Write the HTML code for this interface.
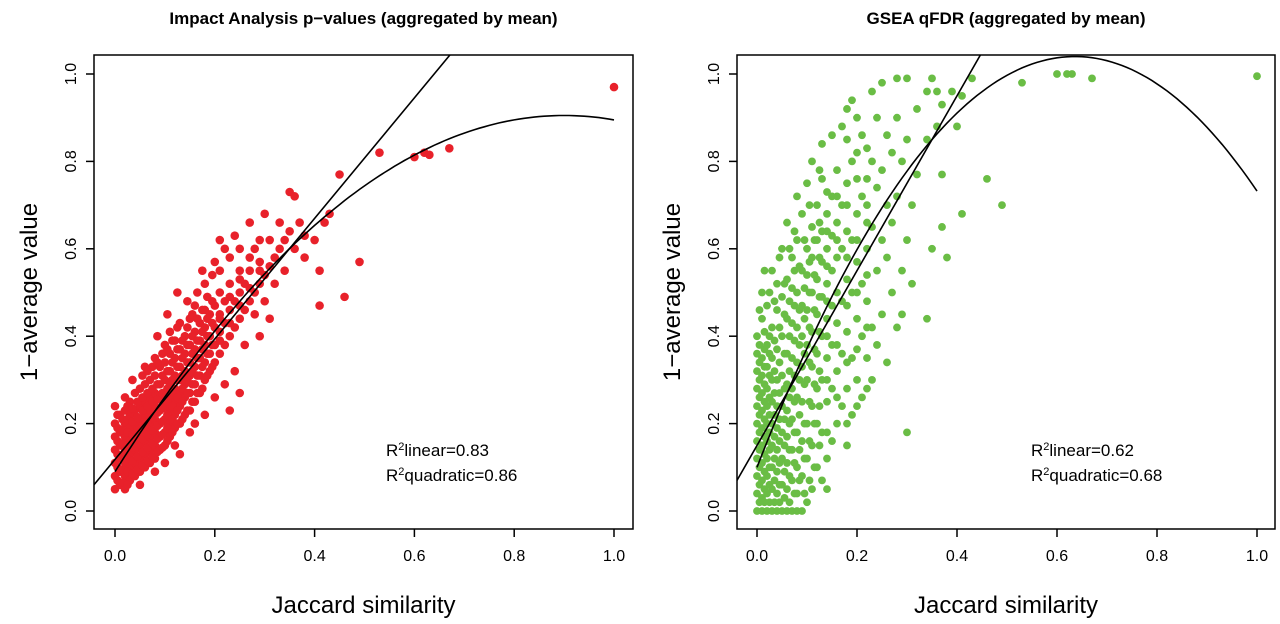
<!DOCTYPE html>
<html><head><meta charset="utf-8"><style>
html,body{margin:0;padding:0;background:#fff;}
svg{display:block;font-family:"Liberation Sans",Arial,sans-serif;}
</style></head><body>
<svg id="c" width="1280" height="624" viewBox="0 0 1280 624"></svg>
<script>
const xTicks=[0,0.2,0.4,0.6,0.8,1.0];
const yTicks=[0,0.2,0.4,0.6,0.8,1.0];
const tickLabels=["0.0","0.2","0.4","0.6","0.8","1.0"];
const leftTitle="Impact Analysis p\u2212values (aggregated by mean)";
const rightTitle="GSEA qFDR (aggregated by mean)";
const leftLinear=[0.118,1.379];
const leftQuad=[0.09,1.811,-1.006];
const rightLinear=[0.15,2.0];
const rightQuad=[0.1,2.956,-2.324];
const leftR2=["0.83","0.86"];
const rightR2=["0.62","0.68"];
const leftPoints=[[0,0.05],[0,0.08],[0,0.11],[0,0.14],[0,0.17],[0,0.2],[0,0.24],
[0.01,0.06],[0.01,0.09],[0.01,0.12],[0.01,0.15],[0.01,0.18],[0.01,0.22],
[0.02,0.05],[0.02,0.08],[0.02,0.11],[0.02,0.14],[0.02,0.17],[0.02,0.2],[0.02,0.23],[0.02,0.26],
[0.03,0.07],[0.03,0.1],[0.03,0.13],[0.03,0.16],[0.03,0.19],[0.03,0.22],[0.03,0.25],
[0.04,0.08],[0.04,0.11],[0.04,0.14],[0.04,0.17],[0.04,0.2],[0.04,0.23],[0.04,0.27],
[0.05,0.09],[0.05,0.12],[0.05,0.15],[0.05,0.18],[0.05,0.21],[0.05,0.24],[0.05,0.28],
[0.06,0.1],[0.06,0.13],[0.06,0.16],[0.06,0.19],[0.06,0.22],[0.06,0.25],[0.06,0.29],[0.06,0.33],
[0.07,0.11],[0.07,0.14],[0.07,0.17],[0.07,0.2],[0.07,0.23],[0.07,0.26],[0.07,0.3],
[0.08,0.12],[0.08,0.15],[0.08,0.18],[0.08,0.21],[0.08,0.24],[0.08,0.27],[0.08,0.31],[0.08,0.35],
[0.09,0.14],[0.09,0.17],[0.09,0.2],[0.09,0.23],[0.09,0.26],[0.09,0.29],[0.09,0.33],
[0.1,0.15],[0.1,0.18],[0.1,0.21],[0.1,0.24],[0.1,0.27],[0.1,0.3],[0.1,0.34],[0.1,0.38],
[0.11,0.17],[0.11,0.2],[0.11,0.23],[0.11,0.26],[0.11,0.29],[0.11,0.32],[0.11,0.36],[0.11,0.41],
[0.12,0.19],[0.12,0.22],[0.12,0.25],[0.12,0.28],[0.12,0.31],[0.12,0.35],[0.12,0.39],
[0.13,0.2],[0.13,0.24],[0.13,0.27],[0.13,0.3],[0.13,0.33],[0.13,0.37],[0.13,0.43],
[0.14,0.22],[0.14,0.26],[0.14,0.29],[0.14,0.32],[0.14,0.36],[0.14,0.4],
[0.15,0.23],[0.15,0.27],[0.15,0.31],[0.15,0.34],[0.15,0.38],[0.15,0.44],
[0.16,0.25],[0.16,0.29],[0.16,0.33],[0.16,0.37],[0.16,0.41],[0.16,0.47],
[0.17,0.27],[0.17,0.31],[0.17,0.35],[0.17,0.39],[0.17,0.43],
[0.18,0.3],[0.18,0.34],[0.18,0.38],[0.18,0.42],[0.18,0.46],[0.18,0.52],
[0.19,0.32],[0.19,0.36],[0.19,0.4],[0.19,0.45],
[0.2,0.34],[0.2,0.38],[0.2,0.42],[0.2,0.47],[0.2,0.57],
[0.21,0.36],[0.21,0.41],[0.21,0.45],[0.21,0.5],
[0.22,0.38],[0.22,0.43],[0.22,0.48],[0.22,0.6],[0.22,0.29],
[0.23,0.4],[0.23,0.46],[0.23,0.52],[0.23,0.23],
[0.24,0.42],[0.24,0.48],[0.24,0.63],[0.24,0.32],
[0.25,0.44],[0.25,0.5],[0.25,0.55],[0.25,0.27],
[0.26,0.46],[0.26,0.52],[0.26,0.38],[0.27,0.48],[0.27,0.55],[0.27,0.66],
[0.28,0.5],[0.28,0.45],[0.28,0.6],[0.29,0.52],[0.29,0.57],[0.29,0.4],
[0.3,0.54],[0.3,0.48],[0.3,0.68],[0.31,0.56],[0.31,0.62],[0.31,0.44],
[0.32,0.58],[0.32,0.52],[0.33,0.6],[0.33,0.66],[0.34,0.62],[0.34,0.55],
[0.35,0.64],[0.35,0.73],[0.36,0.72],[0.36,0.6],[0.37,0.66],[0.38,0.58],[0.38,0.63],
[0.4,0.62],[0.41,0.55],[0.41,0.47],[0.42,0.66],[0.43,0.68],[0.45,0.77],[0.46,0.49],
[0.49,0.57],[0.53,0.82],[0.6,0.81],[0.62,0.82],[0.63,0.815],[0.67,0.83],[1.0,0.97],
[0.12,0.15],[0.15,0.18],[0.18,0.22],[0.2,0.26],[0.13,0.13],[0.16,0.2],[0.1,0.11],[0.08,0.09],[0.05,0.06]];
const leftExtraCols=[
[0.005,[0.07,0.1,0.13,0.16,0.19,0.22]],
[0.015,[0.065,0.095,0.125,0.155,0.185,0.21]],
[0.025,[0.06,0.09,0.12,0.15,0.18,0.21,0.24]],
[0.035,[0.085,0.115,0.145,0.175,0.205,0.235,0.3]],
[0.045,[0.095,0.125,0.155,0.185,0.215,0.25]],
[0.055,[0.105,0.135,0.165,0.195,0.23,0.26,0.31]],
[0.065,[0.115,0.145,0.175,0.205,0.24,0.27,0.32]],
[0.075,[0.125,0.155,0.185,0.215,0.25,0.28,0.33]],
[0.085,[0.135,0.165,0.195,0.225,0.255,0.29,0.34,0.4]],
[0.095,[0.145,0.175,0.205,0.235,0.27,0.31,0.36]],
[0.105,[0.16,0.19,0.22,0.25,0.28,0.32,0.37,0.45]],
[0.115,[0.18,0.21,0.24,0.27,0.3,0.34,0.39]],
[0.125,[0.2,0.23,0.26,0.3,0.33,0.37,0.42,0.5]],
[0.135,[0.21,0.25,0.28,0.31,0.35,0.39]],
[0.145,[0.23,0.27,0.3,0.34,0.38,0.42,0.48]],
[0.155,[0.25,0.29,0.32,0.36,0.4,0.45]],
[0.165,[0.27,0.31,0.35,0.39,0.44,0.5]],
[0.175,[0.28,0.33,0.37,0.41,0.46,0.55]],
[0.185,[0.31,0.36,0.4,0.44,0.49]],
[0.195,[0.33,0.38,0.43,0.48,0.54]],
[0.21,[0.39,0.44,0.55,0.62]],
[0.23,[0.43,0.49,0.58]],
[0.25,[0.47,0.53,0.6]],
[0.27,[0.51,0.58]],
[0.29,[0.55,0.62]]];
const rightCols=[
[0,[0,0.04,0.08,0.12,0.16,0.2,0.24,0.28,0.32,0.36,0.4]],
[0.005,[0.02,0.06,0.1,0.14,0.18,0.22,0.26,0.3,0.34,0.38,0.46]],
[0.01,[0,0.03,0.07,0.11,0.15,0.19,0.23,0.27,0.31,0.35,0.44,0.5]],
[0.015,[0.02,0.05,0.09,0.13,0.17,0.21,0.25,0.29,0.33,0.37,0.41,0.55]],
[0.02,[0,0.04,0.08,0.12,0.16,0.2,0.24,0.28,0.33,0.38,0.47]],
[0.025,[0.02,0.06,0.1,0.14,0.18,0.22,0.26,0.31,0.36,0.4,0.5]],
[0.03,[0,0.05,0.1,0.15,0.2,0.25,0.3,0.35,0.42,0.55]],
[0.035,[0.02,0.07,0.12,0.17,0.22,0.27,0.32,0.39,0.48]],
[0.04,[0,0.04,0.09,0.14,0.19,0.24,0.3,0.37,0.46,0.52]],
[0.045,[0.02,0.06,0.11,0.16,0.21,0.27,0.34,0.42,0.58]],
[0.05,[0,0.06,0.12,0.18,0.24,0.31,0.4,0.49,0.6]],
[0.055,[0.03,0.09,0.15,0.21,0.28,0.36,0.45,0.52]],
[0.06,[0,0.05,0.11,0.17,0.23,0.29,0.36,0.44,0.53,0.66]],
[0.065,[0.02,0.08,0.14,0.2,0.26,0.32,0.4,0.48,0.6]],
[0.07,[0,0.07,0.14,0.21,0.28,0.35,0.43,0.51,0.58]],
[0.075,[0.04,0.11,0.18,0.25,0.31,0.39,0.47,0.55,0.64]],
[0.08,[0,0.04,0.1,0.18,0.26,0.34,0.42,0.5,0.62,0.72]],
[0.085,[0.07,0.14,0.22,0.3,0.38,0.46,0.56]],
[0.09,[0,0.08,0.16,0.25,0.33,0.4,0.47,0.55,0.68]],
[0.095,[0.04,0.12,0.2,0.29,0.36,0.44,0.51,0.62]],
[0.1,[0.02,0.12,0.2,0.3,0.38,0.46,0.54,0.6,0.75]],
[0.105,[0.07,0.16,0.25,0.34,0.42,0.5,0.57,0.7]],
[0.11,[0.05,0.15,0.24,0.33,0.41,0.5,0.58,0.65,0.8]],
[0.115,[0.1,0.2,0.29,0.37,0.46,0.54,0.62]],
[0.12,[0.1,0.2,0.28,0.36,0.45,0.53,0.62,0.7]],
[0.125,[0.15,0.24,0.32,0.41,0.49,0.58,0.66,0.78]],
[0.13,[0.07,0.18,0.3,0.4,0.49,0.57,0.64,0.76,0.84]],
[0.14,[0.05,0.12,0.18,0.25,0.3,0.35,0.4,0.44,0.48,0.52,0.56,0.6,0.64,0.68,0.73]],
[0.15,[0.16,0.28,0.38,0.47,0.55,0.63,0.72,0.86]],
[0.16,[0.2,0.26,0.32,0.38,0.43,0.5,0.58,0.62,0.66,0.72,0.78]],
[0.17,[0.24,0.36,0.48,0.6,0.7,0.88]],
[0.18,[0.15,0.2,0.28,0.34,0.41,0.47,0.53,0.58,0.64,0.7,0.75,0.85,0.92]],
[0.19,[0.22,0.35,0.5,0.62,0.8,0.94]],
[0.2,[0.24,0.3,0.37,0.44,0.5,0.57,0.62,0.68,0.76,0.82,0.9]],
[0.21,[0.26,0.4,0.52,0.72,0.86]],
[0.22,[0.28,0.35,0.42,0.48,0.54,0.6,0.66,0.76,0.7,0.83]],
[0.23,[0.3,0.42,0.65,0.8,0.96]],
[0.24,[0.38,0.55,0.74,0.9]],
[0.25,[0.45,0.62,0.78,0.98]],
[0.26,[0.34,0.58,0.7,0.86]],
[0.27,[0.5,0.66,0.82]],
[0.28,[0.42,0.72,0.9,0.99]],
[0.29,[0.55,0.8,0.45]],
[0.3,[0.18,0.62,0.85,0.99]],
[0.31,[0.7,0.52]],[0.32,[0.77,0.92]],[0.34,[0.44,0.85,0.96]],[0.35,[0.6,0.99]],
[0.36,[0.88,0.96]],[0.37,[0.77,0.65,0.93]],[0.38,[0.58]],[0.39,[0.96]],[0.4,[0.88]],
[0.41,[0.68,0.95]],[0.43,[0.99]],[0.46,[0.76]],[0.49,[0.7]],[0.53,[0.98]],
[0.6,[1.0]],[0.62,[1.0]],[0.63,[1.0]],[0.67,[0.99]],[1.0,[0.995]]];

const NS="http://www.w3.org/2000/svg";
const svg=document.getElementById('c');
function mk(tag,attrs,parent){const e=document.createElementNS(NS,tag);for(const k in attrs)e.setAttribute(k,attrs[k]);(parent||svg).appendChild(e);return e;}

function panel(p){
  const g=mk('g',{});
  
  
  const sx=v=>p.x0+v*p.xs, sy=v=>511-v*437;
  const t=mk('text',{x:(p.bl+p.br)/2,y:24,'text-anchor':'middle','font-size':17,'font-weight':'bold'},g);
  t.textContent=p.title;
  
  
  const dots=mk('g',{fill:p.color},g);
  
  
  p.points.forEach(([x,y])=>{
    const c=mk('circle',{cx:sx(x),cy:sy(y),r:p.r},dots);
    
    
  });
  const clip='clip-'+p.name;
  const cp=mk('clipPath',{id:clip},g);mk('rect',{x:p.bl,y:55,width:p.br-p.bl,height:474},cp);
  const lx0=(p.bl-p.x0)/p.xs, lx1=(p.br-p.x0)/p.xs;
  const lin=mk('line',{x1:sx(lx0),y1:sy(p.lin[0]+p.lin[1]*lx0),x2:sx(lx1),y2:sy(p.lin[0]+p.lin[1]*lx1),stroke:'#000','stroke-width':1.6,'clip-path':'url(#'+clip+')'},g);
  
  
  let d='';for(let i=0;i<=100;i++){const x=i/100;const y=p.quad[0]+p.quad[1]*x+p.quad[2]*x*x;d+=(i?'L':'M')+sx(x).toFixed(1)+','+sy(y).toFixed(1);}
  const q=mk('path',{d:d,fill:'none',stroke:'#000','stroke-width':1.6,'clip-path':'url(#'+clip+')'},g);
  
  
  const box=mk('rect',{x:p.bl,y:55,width:p.br-p.bl,height:474,fill:'none',stroke:'#000','stroke-width':1.5},g);
  
  
  xTicks.forEach((v,i)=>{
    mk('line',{x1:sx(v),x2:sx(v),y1:529,y2:537,stroke:'#000','stroke-width':1.5},g);
    const tl=mk('text',{x:sx(v),y:561,'text-anchor':'middle','font-size':16},g);tl.textContent=tickLabels[i];
    
    
  });
  yTicks.forEach((v,i)=>{
    mk('line',{x1:p.bl,x2:p.bl-8,y1:sy(v),y2:sy(v),stroke:'#000','stroke-width':1.5},g);
    const tl=mk('text',{x:0,y:0,'text-anchor':'middle','font-size':16,transform:`translate(${p.bl-18},${sy(v)}) rotate(-90)`},g);tl.textContent=tickLabels[i];
    
    
  });
  const xl=mk('text',{x:(p.bl+p.br)/2,y:613,'text-anchor':'middle','font-size':24},g);xl.textContent='Jaccard similarity';
  
  
  const yl=mk('text',{x:0,y:0,'text-anchor':'middle','font-size':24,transform:`translate(${p.bl-57},292) rotate(-90)`},g);yl.textContent='1\u2212average value';
  
  
  const r1=mk('text',{x:p.rx,y:456,'font-size':17},g);
  r1.innerHTML='R<tspan dy="-6" font-size="11">2</tspan><tspan dy="6">linear='+p.r2[0]+'</tspan>';
  
  
  const r2=mk('text',{x:p.rx,y:481,'font-size':17},g);
  r2.innerHTML='R<tspan dy="-6" font-size="11">2</tspan><tspan dy="6">quadratic='+p.r2[1]+'</tspan>';
  
  
}
const allLeft=leftPoints.slice();leftExtraCols.forEach(([x,ys])=>ys.forEach(y=>allLeft.push([x,y])));
const rightPoints=[];rightCols.forEach(([x,ys])=>ys.forEach(y=>rightPoints.push([x,y])));
panel({name:'impact-analysis-panel',title:leftTitle,x0:115,xs:499,bl:94,br:633,color:'#e8212a',r:4.3,points:allLeft,lin:leftLinear,quad:leftQuad,r2:leftR2,rx:386});
panel({name:'gsea-panel',title:rightTitle,x0:757,xs:500,bl:737,br:1275,color:'#6abd45',r:3.9,points:rightPoints,lin:rightLinear,quad:rightQuad,r2:rightR2,rx:1031});
</script>
</body></html>
